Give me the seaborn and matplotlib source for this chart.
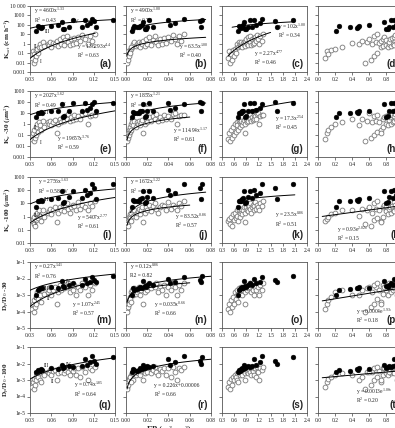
import numpy as np
import pandas as pd
import matplotlib
matplotlib.use("Agg")
import matplotlib.pyplot as plt
import seaborn as sns

# ---------------- data ----------------
# filled group (black dots)
fill_x1 = [0.038, 0.041, 0.043, 0.045, 0.047, 0.060, 0.070, 0.075, 0.077, 0.078,
           0.085, 0.090, 0.103, 0.107, 0.110, 0.115, 0.118, 0.120, 0.123, 0.147]
fill_x2 = [0.006, 0.008, 0.010, 0.007, 0.012, 0.013, 0.015, 0.016, 0.018, 0.019,
           0.020, 0.022, 0.025, 0.040, 0.041, 0.046, 0.055, 0.070, 0.071, 0.072]
fill_x3 = [0.70, 0.72, 0.74, 0.76, 0.78, 0.80, 0.82, 0.85, 0.88, 0.90,
           0.95, 1.00, 1.05, 1.10, 1.15, 1.25, 1.30, 1.60, 1.65, 2.05]
fill_x4 = [0.21, 0.25, 0.38, 0.46, 0.47, 0.48, 0.60, 0.78, 0.80, 0.82,
           0.84, 0.86, 0.88, 0.90, 0.92, 0.94, 0.96, 0.97, 0.98, 0.99]
fill_ksat = [20, 70, 60, 50, 55, 80, 90, 200, 35, 40, 60, 300, 60, 300, 100, 150, 400, 250, 60, 350]
fill_ka30 = [4, 10, 11, 12, 10, 15, 14, 70, 4, 5, 15, 80, 15, 80, 20, 30, 70, 100, 15, 80]
fill_ka100 = [5, 15, 14, 18, 16, 20, 25, 80, 10, 12, 30, 80, 25, 100, 40, 60, 300, 150, 20, 300]
fill_dp30 = [1.0e-3, 2.0e-3, 2.4e-3, 2.8e-3, 2.5e-3, 3.0e-3, 2.5e-3, 7.0e-3, 3.5e-3, 3.0e-3,
             4.0e-3, 5.0e-3, 4.0e-3, 1.0e-2, 5.5e-3, 6.0e-3, 1.2e-2, 8.0e-3, 6.0e-3, 1.5e-2]
fill_dp100 = [3.0e-3, 4.0e-3, 3.5e-3, 4.5e-3, 4.0e-3, 5.0e-3, 4.5e-3, 8.0e-3, 5.5e-3, 6.0e-3,
              7.0e-3, 6.5e-3, 7.5e-3, 2.0e-2, 8.0e-3, 1.2e-2, 3.0e-2, 1.5e-2, 1.0e-2, 2.5e-2]

# open group (hollow circles)
open_x1 = [0.033, 0.034, 0.035, 0.036, 0.037, 0.038, 0.039, 0.040, 0.041, 0.042,
           0.044, 0.046, 0.048, 0.050, 0.055, 0.057, 0.058, 0.060, 0.062, 0.065,
           0.068, 0.070, 0.072, 0.074, 0.076, 0.078, 0.080, 0.082, 0.084, 0.086,
           0.088, 0.090, 0.092, 0.095, 0.098, 0.100, 0.104, 0.108, 0.112, 0.115,
           0.118, 0.122]
open_x2 = [0.001, 0.002, 0.001, 0.003, 0.002, 0.004, 0.003, 0.005, 0.004, 0.006,
           0.007, 0.005, 0.008, 0.009, 0.010, 0.011, 0.012, 0.013, 0.014, 0.015,
           0.016, 0.018, 0.019, 0.020, 0.022, 0.024, 0.025, 0.027, 0.028, 0.030,
           0.032, 0.034, 0.036, 0.038, 0.040, 0.042, 0.044, 0.046, 0.048, 0.050,
           0.052, 0.055]
open_x3 = [0.45, 0.48, 0.50, 0.52, 0.55, 0.58, 0.60, 0.62, 0.65, 0.66,
           0.68, 0.70, 0.72, 0.74, 0.75, 0.76, 0.78, 0.80, 0.82, 0.84,
           0.86, 0.88, 0.90, 0.92, 0.94, 0.95, 0.96, 0.98, 1.00, 1.02,
           1.04, 1.06, 1.08, 1.10, 1.12, 1.14, 1.17, 1.20, 1.22, 1.25,
           1.28, 1.32]
open_x4 = [0.08, 0.10, 0.55, 0.12, 0.62, 0.15, 0.66, 0.20, 0.70, 0.28,
           0.48, 0.74, 0.58, 0.76, 0.64, 0.80, 0.68, 0.82, 0.72, 0.84,
           0.74, 0.86, 0.76, 0.88, 0.78, 0.90, 0.80, 0.92, 0.83, 0.94,
           0.85, 0.96, 0.87, 0.40, 0.89, 0.52, 0.91, 0.60, 0.93, 0.66,
           0.95, 0.70]
open_ksat = [0.03, 0.15, 0.01, 0.08, 0.02, 0.2, 0.05, 0.3, 0.1, 0.5,
             1.0, 0.4, 1.5, 0.6, 1.0, 0.7, 1.5, 0.5, 1.2, 0.9,
             2.0, 0.6, 3.0, 1.0, 5.0, 0.8, 2.5, 6.0, 1.5, 0.7,
             3.0, 1.0, 4.0, 1.2, 5.0, 2.0, 8.0, 3.0, 1.0, 6.0,
             2.0, 10.0]
open_ka30 = [0.04, 0.15, 0.03, 0.3, 0.05, 0.5, 0.1, 1.0, 0.2, 1.5,
             0.8, 0.3, 2.0, 0.5, 1.5, 1.0, 2.0, 0.8, 1.5, 2.5,
             0.15, 1.0, 3.0, 1.5, 4.0, 2.0, 5.0, 3.0, 8.0, 2.0,
             4.0, 2.5, 6.0, 3.0, 5.0, 3.0, 8.0, 10.0, 1.0, 5.0,
             7.0, 6.0]
open_ka100 = [0.5, 0.7, 0.3, 1.0, 0.2, 1.5, 0.6, 2.0, 0.8, 3.0,
              1.2, 0.5, 3.0, 1.0, 2.0, 2.5, 4.0, 1.5, 3.0, 5.0,
              0.4, 2.0, 5.0, 3.0, 8.0, 2.5, 6.0, 10.0, 4.0, 2.0,
              5.0, 8.0, 6.0, 3.0, 12.0, 4.0, 8.0, 5.0, 3.0, 10.0,
              6.0, 15.0]
open_dp30 = [1.5e-4, 3e-4, 1e-4, 5e-4, 2e-4, 8e-4, 3e-4, 1.5e-3, 6e-4, 2e-3,
             1e-3, 4e-4, 2.5e-3, 1.2e-3, 1.5e-3, 2e-3, 3e-3, 1e-3, 2e-3, 3e-3,
             3e-4, 1.5e-3, 4e-3, 2e-3, 3e-3, 2.5e-3, 4e-3, 3e-3, 5e-3, 1.5e-3,
             3.5e-3, 2e-3, 4e-3, 1e-3, 3e-3, 2e-3, 5e-3, 3e-3, 1e-3, 4e-3,
             2e-3, 5e-3]
open_dp100 = [4e-4, 8e-4, 3e-4, 1.2e-3, 5e-4, 1.5e-3, 1e-3, 2e-3, 1.5e-3, 2.5e-3,
              1e-3, 8e-4, 3e-3, 2e-3, 3e-3, 2.5e-3, 4e-3, 2e-3, 3.5e-3, 4e-3,
              1e-3, 2.5e-3, 5e-3, 3e-3, 5e-3, 2.5e-3, 4e-3, 6e-3, 3e-3, 2e-3,
              4.5e-3, 3.5e-3, 5e-3, 2e-3, 5.5e-3, 1.5e-3, 6e-3, 3e-3, 1e-3, 5e-3,
              4e-3, 6e-3]

# axis definitions
col_limits = [(0.03, 0.15), (0.0, 0.08), (0.3, 2.4), (0.0, 1.0)]
col_ticks = [[0.03, 0.06, 0.09, 0.12, 0.15],
             [0.00, 0.02, 0.04, 0.06, 0.08],
             [0.3, 0.6, 0.9, 1.2, 1.5, 1.8, 2.1, 2.4],
             [0.0, 0.2, 0.4, 0.6, 0.8, 1.0]]
col_ticklabels = [["0.03", "0.06", "0.09", "0.12", "0.15"],
                  ["0.00", "0.02", "0.04", "0.06", "0.08"],
                  ["0.3", "0.6", "0.9", "1.2", "1.5", "1.8", "2.1", "2.4"],
                  ["0.0", "0.2", "0.4", "0.6", "0.8", "1.0"]]
row_ticks = [[1e-3, 1e-2, 1e-1, 1, 10, 100, 1000, 10000],
             [1e-3, 1e-2, 1e-1, 1, 10, 100, 1000],
             [1e-2, 1e-1, 1, 10, 100, 1000],
             [1e-5, 1e-4, 1e-3, 1e-2, 1e-1],
             [1e-5, 1e-4, 1e-3, 1e-2, 1e-1]]
row_ticklabels = [["0.001", "0.01", "0.1", "1", "10", "100", "1000", "10 000"],
                  ["0.001", "0.01", "0.1", "1", "10", "100", "1000"],
                  ["0.01", "0.1", "1", "10", "100", "1000"],
                  ["1e-5", "1e-4", "1e-3", "1e-2", "1e-1"],
                  ["1e-5", "1e-4", "1e-3", "1e-2", "1e-1"]]
row_titles = [r"K$_{sat}$ (cm h$^{-1}$)", r"K$_a$ -30 ($\mu$m$^2$)", r"K$_a$ -100 ($\mu$m$^2$)",
              r"D$_p$/D$_0$ -30", r"D$_p$/D$_0$ -100"]
panel_letters = ["a", "b", "c", "d", "e", "f", "g", "h", "i", "j",
                 "k", "l", "m", "n", "o", "p", "q", "r", "s", "t"]

# fitted curves shown in the chart: (kind, a, b, x_start, x_end)
fits = {
    (0, 0): [("pow", 4600, 1.33, 0.03, 0.15), ("pow", 136293, 4.4, 0.03, 0.122)],
    (0, 1): [("pow", 4900, 1.00, 0.004, 0.075), ("pow", 63.5, 1.00, 0.001, 0.075)],
    (0, 2): [("pow", 102, 1.00, 0.55, 2.1), ("pow", 2.27, 4.77, 0.45, 1.5)],
    (1, 0): [("pow", 2027, 1.62, 0.03, 0.15), ("pow", 19657, 3.76, 0.03, 0.15)],
    (1, 1): [("pow", 1855, 1.21, 0.004, 0.075), ("pow", 114.94, 1.17, 0.001, 0.06)],
    (1, 2): [("pow", 17.3, 2.54, 0.7, 2.1)],
    (2, 0): [("pow", 2756, 1.63, 0.03, 0.15), ("pow", 5407, 2.77, 0.03, 0.15)],
    (2, 1): [("pow", 1672, 1.22, 0.004, 0.075), ("pow", 83.52, 0.86, 0.001, 0.06)],
    (2, 2): [("pow", 23.5, 0.86, 0.7, 2.1)],
    (2, 3): [("exp", 0.93, 2.02, 0.05, 1.0)],
    (3, 0): [("pow", 0.27, 1.41, 0.03, 0.15), ("pow", 1.07, 2.45, 0.03, 0.12)],
    (3, 1): [("pow", 0.12, 0.86, 0.003, 0.08), ("pow", 0.035, 0.66, 0.001, 0.06)],
    (3, 3): [("exp", 0.0004, 1.93, 0.05, 1.0)],
    (4, 0): [("pow", 0.74, 1.85, 0.03, 0.15)],
    (4, 1): [("lin", 0.226, 0.00006, 0.001, 0.08)],
    (4, 3): [("exp", 0.0013, 1.06, 0.05, 1.0)],
}

# annotations: (x frac, y frac, text)
notes = {
    (0, 0): [(0.05, 0.92, r"y = 4600x$^{1.33}$"), (0.05, 0.79, r"R$^2$ = 0.43"),
             (0.52, 0.76, "IV"), (0.17, 0.62, "III"), (0.05, 0.38, "II"), (0.12, 0.16, "I"),
             (0.55, 0.38, r"y = 136293x$^{4.4}$"), (0.55, 0.25, r"R$^2$ = 0.63")],
    (0, 1): [(0.05, 0.92, r"y = 4900x$^{1.00}$"), (0.05, 0.79, r"R$^2$ = 0.76"),
             (0.62, 0.38, r"y = 63.5x$^{1.00}$"), (0.62, 0.25, r"R$^2$ = 0.40")],
    (0, 2): [(0.66, 0.68, r"y = 102x$^{1.00}$"), (0.66, 0.55, r"R$^2$ = 0.34"),
             (0.38, 0.28, r"y = 2.27x$^{4.77}$"), (0.38, 0.15, r"R$^2$ = 0.46")],
    (1, 0): [(0.05, 0.92, r"y = 2027x$^{1.62}$"), (0.05, 0.79, r"R$^2$ = 0.49"),
             (0.36, 0.80, "IV"), (0.16, 0.68, "III"), (0.05, 0.45, "II"), (0.12, 0.22, "I"),
             (0.32, 0.28, r"y = 19657x$^{3.76}$"), (0.32, 0.15, r"R$^2$ = 0.59")],
    (1, 1): [(0.05, 0.92, r"y = 1855x$^{1.21}$"), (0.05, 0.79, r"R$^2$ = 0.80"),
             (0.55, 0.40, r"y = 114.94x$^{1.17}$"), (0.55, 0.27, r"R$^2$ = 0.61")],
    (1, 2): [(0.62, 0.58, r"y = 17.3x$^{2.54}$"), (0.62, 0.45, r"R$^2$ = 0.45")],
    (2, 0): [(0.1, 0.92, r"y = 2756x$^{1.63}$"), (0.1, 0.79, r"R$^2$ = 0.58  IV"),
             (0.16, 0.66, "III"), (0.04, 0.42, "II(I)"), (0.06, 0.30, "I"),
             (0.55, 0.38, r"y = 5407x$^{2.77}$"), (0.55, 0.25, r"R$^2$ = 0.61")],
    (2, 1): [(0.05, 0.92, r"y = 1672x$^{1.22}$"), (0.05, 0.79, r"R$^2$ = 0.78"),
             (0.58, 0.40, r"y = 83.52x$^{0.86}$"), (0.58, 0.27, r"R$^2$ = 0.57")],
    (2, 2): [(0.62, 0.42, r"y = 23.5x$^{0.86}$"), (0.62, 0.29, r"R$^2$ = 0.51")],
    (2, 3): [(0.22, 0.20, r"y = 0.93e$^{2.02x}$"), (0.22, 0.07, r"R$^2$ = 0.15")],
    (3, 0): [(0.05, 0.92, r"y = 0.27x$^{1.41}$"), (0.05, 0.79, r"R$^2$ = 0.76"),
             (0.42, 0.70, "IV"), (0.16, 0.60, "III"), (0.05, 0.45, "I"), (0.2, 0.45, "II"),
             (0.50, 0.35, r"y = 1.07x$^{2.45}$"), (0.50, 0.22, r"R$^2$ = 0.57")],
    (3, 1): [(0.05, 0.92, r"y = 0.12x$^{0.86}$"), (0.05, 0.79, "R2 = 0.82"),
             (0.33, 0.35, r"y = 0.035x$^{0.66}$"), (0.33, 0.22, r"R$^2$ = 0.66")],
    (3, 3): [(0.45, 0.24, r"y = 0.0004e$^{1.93x}$"), (0.45, 0.11, r"R$^2$ = 0.18")],
    (4, 0): [(0.05, 0.60, "I"), (0.16, 0.72, "III"), (0.25, 0.48, "II"), (0.42, 0.73, "IV"),
             (0.52, 0.42, r"y = 0.74x$^{1.85}$"), (0.52, 0.29, r"R$^2$ = 0.64")],
    (4, 1): [(0.33, 0.42, r"y = 0.226x+0.00006"), (0.33, 0.29, r"R$^2$ = 0.66")],
    (4, 3): [(0.45, 0.32, r"y = 0.0013e$^{1.06x}$"), (0.45, 0.19, r"R$^2$ = 0.20")],
}

fill_x = [fill_x1, fill_x2, fill_x3, fill_x4]
fill_y = [fill_ksat, fill_ka30, fill_ka100, fill_dp30, fill_dp100]
open_x = [open_x1, open_x2, open_x3, open_x4]
open_y = [open_ksat, open_ka30, open_ka100, open_dp30, open_dp100]

# ---------------- style ----------------
sns.set_style("ticks")
plt.rcParams['font.family'] = ['Liberation Serif', 'DejaVu Serif']
plt.rcParams['mathtext.fontset'] = 'custom'
plt.rcParams['mathtext.rm'] = 'Liberation Serif'
plt.rcParams['mathtext.it'] = 'Liberation Serif:italic'
plt.rcParams['mathtext.bf'] = 'Liberation Serif:bold'

W, H = 395, 428
fig = plt.figure(figsize=(W / 100, H / 100), dpi=100)
col_left = [30, 126, 222, 318]
col_w = 85
row_top = [6, 91, 177, 262, 347]
row_h = 66

for r in range(5):
    for c in range(4):
        ax = fig.add_axes([col_left[c] / W, 1 - (row_top[r] + row_h) / H, col_w / W, row_h / H])
        df_o = pd.DataFrame({"x": open_x[c], "y": open_y[r]})
        df_f = pd.DataFrame({"x": fill_x[c], "y": fill_y[r]})
        sns.scatterplot(data=df_o, x="x", y="y", ax=ax, s=12, marker="o",
                        facecolor="white", edgecolor="#7a7a7a", linewidth=0.6, zorder=3)
        sns.scatterplot(data=df_f, x="x", y="y", ax=ax, s=12, marker="o",
                        color="black", edgecolor="black", linewidth=0.3, zorder=4)
        for kind, a, b, x0, x1 in fits.get((r, c), []):
            xs = np.linspace(x0, x1, 120)
            if kind == "pow":
                ys = a * xs ** b
            elif kind == "exp":
                ys = a * np.exp(b * xs)
            else:
                ys = a * xs + b
            sns.lineplot(x=xs, y=ys, ax=ax, color="black", linewidth=0.7, sort=False,
                         estimator=None, zorder=5)
        ax.set_yscale("log")
        ax.set_xlim(*col_limits[c])
        ax.set_ylim(row_ticks[r][0], row_ticks[r][-1])
        ax.set_xticks(col_ticks[c])
        ax.set_xticklabels(col_ticklabels[c])
        ax.set_yticks(row_ticks[r])
        ax.yaxis.set_minor_locator(matplotlib.ticker.NullLocator())
        if c == 0:
            ax.set_yticklabels(row_ticklabels[r])
        else:
            ax.set_yticklabels([])
        ax.set_xlabel("")
        ax.set_ylabel("")
        ax.tick_params(axis="both", labelsize=4.0, length=2, width=0.5, pad=1.5,
                       color="#444444", labelcolor="#222222")
        for sp in ax.spines.values():
            sp.set_linewidth(0.6)
            sp.set_color("#555555")
        for (tx, ty, t) in notes.get((r, c), []):
            ax.text(tx, ty, t, transform=ax.transAxes, fontsize=4.0, ha="left", va="center",
                    color="#222222")
        ax.text(0.96, 0.04, "(" + panel_letters[r * 4 + c] + ")", transform=ax.transAxes,
                fontsize=7, fontweight="bold", family="Liberation Sans", ha="right", va="bottom")
    fig.text(7 / W, 1 - (row_top[r] + row_h / 2) / H, row_titles[r], rotation=90,
             fontsize=5.2, fontweight="bold", ha="center", va="center")

fig.text((col_left[1] + col_w / 2) / W, 1 - 424 / H, r"EP (m$^3$ m$^{-3}$)",
         fontsize=6, fontweight="bold", ha="center", va="top")

fig.savefig("out.png", dpi=100)
